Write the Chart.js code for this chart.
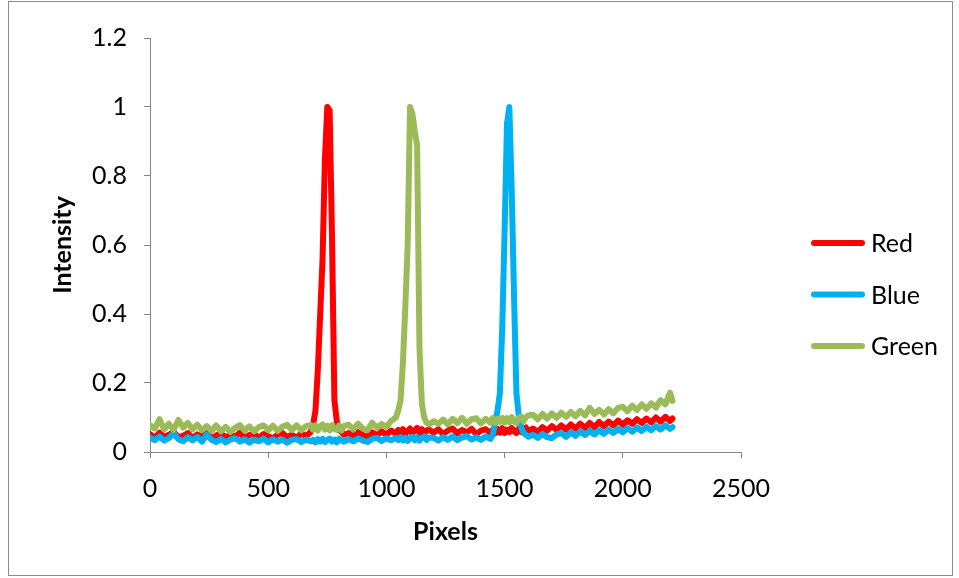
<!DOCTYPE html>
<html><head><meta charset="utf-8">
<script src="https://cdn.jsdelivr.net/npm/chart.js@4.4.1/dist/chart.umd.min.js"></script>
<style>html,body{margin:0;padding:0;background:#fff;} canvas{display:block;}</style>
</head><body>
<canvas id="c" width="959" height="578"></canvas>
<script>
// ---- data ----
const pixelsX = [0,20,40,60,80,100,120,140,160,180,200,220,240,260,280,300,320,340,360,380,400,420,440,460,480,500,520,540,560,580,600,620,640,660,680,
690,700,710,720,730,740,750,760,770,780,790,800,810,820,
840,860,880,900,920,940,960,980,1000,1020,1040,
1050,1060,1070,1080,1090,1100,1110,1120,1130,1140,1150,1160,1170,1180,
1200,1220,1240,1260,1280,1300,1320,1340,1360,1380,1400,1420,1440,
1450,1460,1470,1480,1490,1500,1510,1520,1530,1540,1550,1560,1570,1580,1590,1600,
1620,1640,1660,1680,1700,1720,1740,1760,1780,1800,1820,1840,1860,1880,1900,1920,1940,1960,1980,2000,2020,2040,2060,2080,2100,2120,2140,2160,2180,2200,2210];

const redValues = [0.052,0.041,0.056,0.044,0.050,0.058,0.043,0.047,0.055,0.040,0.051,0.045,0.057,0.039,0.048,0.054,0.042,0.050,0.044,0.056,0.041,0.049,0.053,0.040,0.052,0.046,0.039,0.051,0.055,0.043,0.050,0.041,0.054,0.046,0.058,
0.080,0.120,0.240,0.400,0.560,0.850,1.000,0.990,0.620,0.150,0.090,0.065,0.058,0.050,
0.055,0.046,0.058,0.049,0.044,0.057,0.048,0.060,0.050,0.062,0.053,
0.064,0.053,0.066,0.052,0.061,0.068,0.054,0.063,0.070,0.055,0.066,0.053,0.062,0.065,
0.056,0.066,0.052,0.062,0.068,0.054,0.064,0.057,0.067,0.052,0.062,0.066,0.055,
0.064,0.054,0.067,0.056,0.069,0.055,0.065,0.058,0.070,0.060,0.055,0.068,0.058,0.066,0.071,0.060,
0.068,0.058,0.072,0.062,0.075,0.064,0.077,0.065,0.080,0.068,0.082,0.070,0.084,0.072,0.087,0.075,0.088,0.077,0.091,0.079,0.092,0.082,0.095,0.084,0.097,0.086,0.100,0.088,0.102,0.090,0.097];

const blueValues = [0.042,0.034,0.045,0.033,0.040,0.055,0.037,0.031,0.043,0.034,0.044,0.030,0.050,0.036,0.029,0.038,0.028,0.036,0.040,0.030,0.037,0.027,0.036,0.031,0.039,0.028,0.037,0.030,0.036,0.027,0.035,0.038,0.029,0.036,0.031,
0.035,0.028,0.037,0.030,0.038,0.029,0.035,0.039,0.030,0.036,0.028,0.038,0.033,0.030,
0.037,0.031,0.039,0.033,0.029,0.038,0.041,0.032,0.040,0.034,0.041,
0.035,0.043,0.033,0.041,0.032,0.040,0.044,0.034,0.042,0.033,0.041,0.045,0.035,0.042,
0.041,0.033,0.043,0.035,0.045,0.034,0.042,0.046,0.036,0.043,0.035,0.045,0.038,
0.050,0.085,0.120,0.170,0.360,0.640,0.950,1.000,0.760,0.450,0.170,0.105,0.072,0.055,0.050,0.044,
0.050,0.041,0.052,0.043,0.040,0.051,0.055,0.044,0.057,0.047,0.059,0.049,0.061,0.051,0.063,0.053,0.065,0.055,0.067,0.057,0.069,0.059,0.071,0.061,0.073,0.063,0.075,0.065,0.077,0.067,0.072];

const greenValues = [0.078,0.068,0.095,0.066,0.082,0.064,0.093,0.071,0.084,0.066,0.079,0.063,0.075,0.061,0.077,0.060,0.073,0.058,0.070,0.078,0.062,0.074,0.060,0.072,0.077,0.063,0.076,0.061,0.073,0.079,0.064,0.077,0.063,0.075,0.078,
0.064,0.077,0.062,0.075,0.080,0.065,0.076,0.063,0.078,0.066,0.064,0.077,0.062,0.075,
0.079,0.065,0.082,0.068,0.063,0.085,0.070,0.081,0.073,0.090,0.100,
0.120,0.150,0.260,0.420,0.600,1.000,0.980,0.930,0.890,0.300,0.140,0.100,0.085,0.080,
0.089,0.082,0.094,0.080,0.096,0.084,0.099,0.082,0.095,0.098,0.083,0.096,0.085,
0.098,0.084,0.096,0.087,0.099,0.085,0.098,0.086,0.101,0.088,0.084,0.099,0.103,0.089,0.101,0.106,
0.108,0.095,0.110,0.097,0.112,0.099,0.114,0.102,0.116,0.104,0.119,0.106,0.128,0.110,0.122,0.109,0.124,0.112,0.128,0.131,0.118,0.134,0.122,0.138,0.125,0.141,0.129,0.150,0.138,0.172,0.148];

const seriesNames = ['Red', 'Blue', 'Green'];
const seriesColors = ['#FF0000', '#00B0F0', '#9BBB59'];
const xTickValues = [0, 500, 1000, 1500, 2000, 2500];
const xTickLabels = ['0', '500', '1000', '1500', '2000', '2500'];
const yTickValues = [0, 0.2, 0.4, 0.6, 0.8, 1, 1.2];
const yTickLabels = ['0', '0.2', '0.4', '0.6', '0.8', '1', '1.2'];
const xTitle = 'Pixels';
const yTitle = 'Intensity';

// ---- chart ----
const FONT = 'Lato, "Open Sans", sans-serif';
const AXIS = '#868686';
const toPoints = vals => pixelsX.map((x, i) => ({x: x, y: vals[i]}));
const allSeries = [redValues, blueValues, greenValues];

const framePlugin = {
  id: 'frame',
  beforeDraw(chart) {
    const ctx = chart.ctx;
    ctx.save();
    ctx.fillStyle = '#fff';
    ctx.fillRect(0, 0, chart.width, chart.height);
    ctx.strokeStyle = '#8c8c8c';
    ctx.lineWidth = 1;
    ctx.strokeRect(8.5, 1.5, 944, 574);
    ctx.restore();
  }
};

const sideLegend = {
  id: 'sideLegend',
  afterDraw(chart) {
    const ctx = chart.ctx;
    const firstY = 243, step = 51.5, x0 = 814, x1 = 862, tx = 871;
    ctx.save();
    chart.data.datasets.slice().sort((a, b) => a.legendIndex - b.legendIndex).forEach((ds, i) => {
      const y = firstY + i * step;
      ctx.strokeStyle = ds.borderColor;
      ctx.lineWidth = 6;
      ctx.lineCap = 'round';
      ctx.beginPath();
      ctx.moveTo(x0, y);
      ctx.lineTo(x1, y);
      ctx.stroke();
      ctx.fillStyle = '#000';
      ctx.font = '25px ' + FONT;
      ctx.textBaseline = 'middle';
      ctx.textAlign = 'left';
      ctx.fillText(ds.label, tx, y + 1);
    });
    ctx.restore();
  }
};

new Chart(document.getElementById('c'), {
  type: 'line',
  data: {
    datasets: allSeries.map((vals, i) => ({
      label: seriesNames[i],
      legendIndex: i,
      data: toPoints(vals),
      borderColor: seriesColors[i],
      backgroundColor: seriesColors[i],
      borderWidth: 6,
      pointRadius: 0,
      pointHoverRadius: 0,
      tension: 0,
      fill: false,
      borderCapStyle: 'round',
      borderJoinStyle: 'round',
      order: allSeries.length - 1 - i
    }))
  },
  options: {
    responsive: false,
    animation: false,
    devicePixelRatio: 1,
    layout: { padding: { top: 38, right: 218, bottom: 0, left: 0 } },
    plugins: { legend: { display: false }, tooltip: { enabled: false } },
    scales: {
      x: {
        type: 'linear', min: 0, max: 2500,
        afterBuildTicks: s => { s.ticks = xTickValues.map(v => ({value: v})); },
        afterFit: s => { s.height = 126; },
        ticks: {
          autoSkip: false, maxRotation: 0, padding: 16, color: '#000',
          font: { family: FONT, size: 25 },
          callback: v => { const k = xTickValues.indexOf(v); return k >= 0 ? xTickLabels[k] : ''; }
        },
        grid: { display: true, drawOnChartArea: false, drawTicks: true, tickLength: 6, color: AXIS, lineWidth: 1 },
        border: { display: true, color: AXIS, width: 1 },
        title: { display: true, text: xTitle, color: '#000', font: { family: FONT, size: 25, weight: 'bold' }, padding: { top: 0, bottom: 31 } }
      },
      y: {
        type: 'linear', min: 0, max: 1.2,
        afterBuildTicks: s => { s.ticks = yTickValues.map(v => ({value: v})); },
        afterFit: s => { s.width = 150; },
        ticks: {
          padding: 17, color: '#000',
          font: { family: FONT, size: 25 },
          callback: v => { const k = yTickValues.findIndex(t => Math.abs(t - v) < 1e-9); return k >= 0 ? yTickLabels[k] : ''; }
        },
        grid: { display: true, drawOnChartArea: false, drawTicks: true, tickLength: 6, color: AXIS, lineWidth: 1 },
        border: { display: true, color: AXIS, width: 1 },
        title: { display: true, text: yTitle, color: '#000', font: { family: FONT, size: 25, weight: 'bold' }, padding: { top: 48, bottom: 0 } }
      }
    }
  },
  plugins: [framePlugin, sideLegend]
});
</script>
</body></html>
